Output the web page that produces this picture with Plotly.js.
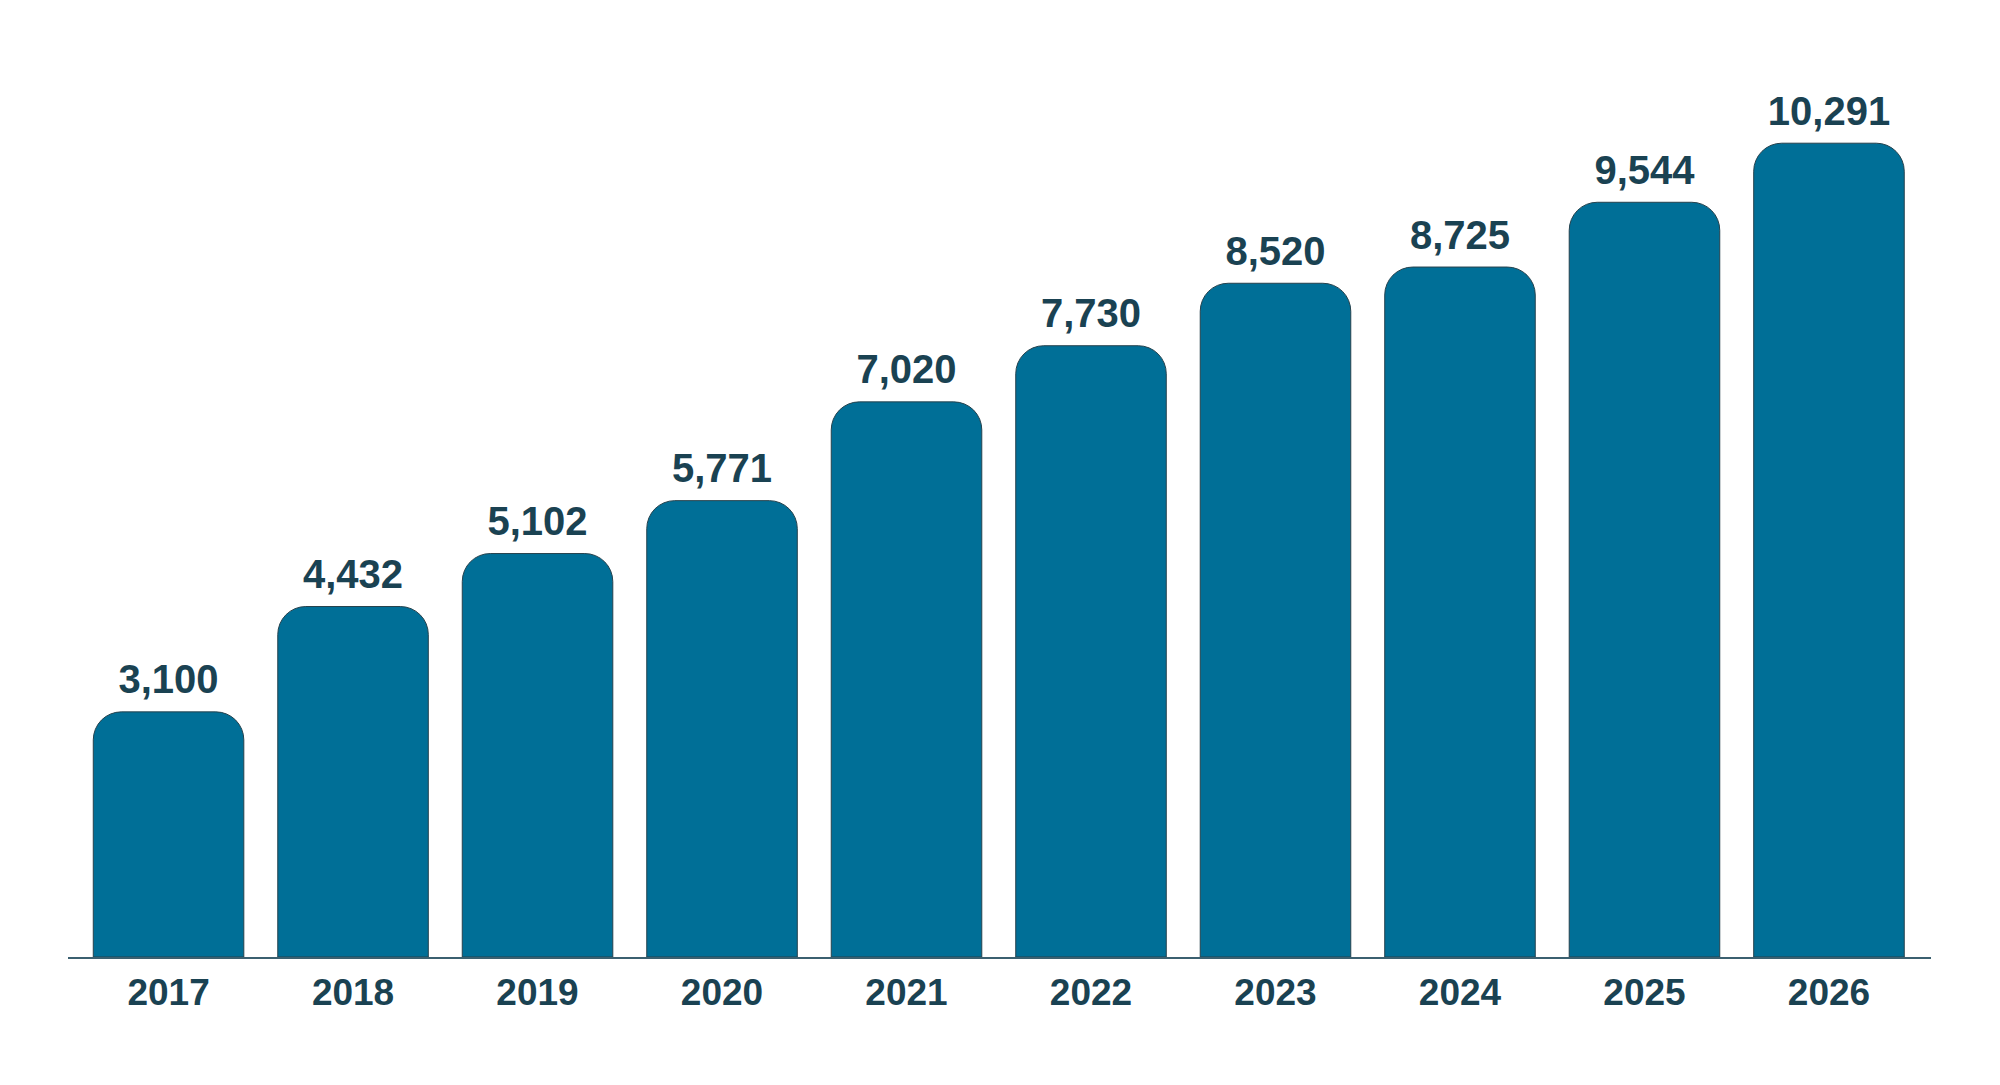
<!DOCTYPE html>
<html>
<head>
<meta charset="utf-8">
<script src="https://cdn.plot.ly/plotly-3.0.1.min.js"></script>
<style>
  html, body { margin: 0; padding: 0; background: #ffffff; }
  #chart { width: 2000px; height: 1085px; }
</style>
</head>
<body>
<div id="chart"></div>
<script>
var years = ['2017', '2018', '2019', '2020', '2021', '2022', '2023', '2024', '2025', '2026'];
var values = [3100, 4432, 5102, 5771, 7020, 7730, 8520, 8725, 9544, 10291];

var barColor = '#006f97';
var textColor = '#1a4252';
var fontFam = 'Liberation Sans, Arial, sans-serif';

var bars = {
  x: years,
  y: values,
  type: 'bar',
  marker: {
    color: barColor,
    cornerradius: 28,
    line: { color: '#26424d', width: 1 }
  },
  hoverinfo: 'none'
};

// value labels, lifted off the bar tops by an invisible marker
var labels = {
  x: years,
  y: values,
  type: 'scatter',
  mode: 'markers+text',
  texttemplate: '%{y:,}',
  textposition: 'top center',
  cliponaxis: false,
  marker: { size: 12, color: 'rgba(0,0,0,0)' },
  textfont: { family: fontFam, size: 40, color: textColor, weight: 'bold' },
  hoverinfo: 'none'
};

var layout = {
  width: 2000,
  height: 1085,
  margin: { l: 68, r: 69, t: 40, b: 128 },
  paper_bgcolor: '#ffffff',
  plot_bgcolor: '#ffffff',
  showlegend: false,
  bargap: 0.184,
  font: { family: fontFam, color: textColor },
  xaxis: {
    type: 'category',
    range: [-0.545, 9.553],
    showline: true,
    linecolor: '#3b6070',
    linewidth: 2,
    showgrid: false,
    zeroline: false,
    ticks: '',
    ticklabelstandoff: 2,
    tickfont: { family: fontFam, size: 37, color: textColor, weight: 'bold' }
  },
  yaxis: {
    range: [0, 11596],
    visible: false,
    showgrid: false,
    zeroline: false
  }
};

Plotly.newPlot('chart', [bars, labels], layout, { displayModeBar: false });
</script>
</body>
</html>
